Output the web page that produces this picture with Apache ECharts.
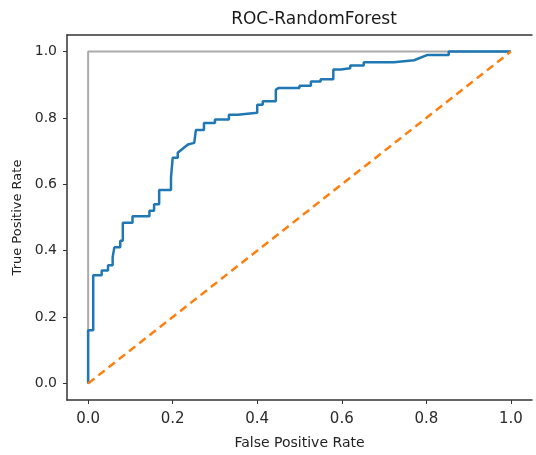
<!DOCTYPE html>
<html>
<head>
<meta charset="utf-8">
<script src="https://cdn.jsdelivr.net/npm/echarts@6/dist/echarts.min.js"></script>
<style>
  html, body { margin: 0; padding: 0; background: #fff; }
  #mainChart { width: 536px; height: 455px; }
</style>
</head>
<body>
<div id="mainChart"></div>
<script>
// ROC curve points [fpr, tpr]
var rocPoints = [
    [0, 0], [0, 0.16], [0.012, 0.16], [0.012, 0.326], [0.032, 0.326], [0.032, 0.34],
    [0.047, 0.34], [0.047, 0.356], [0.058, 0.356], [0.058, 0.38], [0.062, 0.38], [0.062, 0.41],
    [0.076, 0.41], [0.076, 0.43], [0.082, 0.43], [0.082, 0.484], [0.105, 0.484], [0.105, 0.504],
    [0.145, 0.504], [0.145, 0.52], [0.156, 0.52], [0.156, 0.54], [0.168, 0.54], [0.168, 0.583],
    [0.196, 0.583], [0.196, 0.62], [0.2, 0.62], [0.2, 0.68], [0.212, 0.68], [0.212, 0.695],
    [0.236, 0.72], [0.251, 0.725], [0.255, 0.725], [0.255, 0.764], [0.274, 0.764], [0.274, 0.785],
    [0.3, 0.785], [0.3, 0.795], [0.333, 0.795], [0.333, 0.81], [0.354, 0.81], [0.354, 0.816],
    [0.4, 0.816], [0.4, 0.84], [0.413, 0.84], [0.413, 0.85], [0.444, 0.85], [0.444, 0.885],
    [0.45, 0.89], [0.5, 0.89], [0.5, 0.897], [0.527, 0.897], [0.527, 0.91], [0.55, 0.91],
    [0.55, 0.917], [0.58, 0.917], [0.58, 0.946], [0.598, 0.946], [0.598, 0.95], [0.62, 0.95],
    [0.62, 0.958], [0.652, 0.958], [0.652, 0.968], [0.723, 0.968], [0.723, 0.974], [0.771, 0.974],
    [0.803, 0.99], [0.853, 0.99], [0.853, 1.0], [1, 1]
];
// perfect classifier and chance line
var perfectPoints = [[0, 0], [0, 1], [1, 1]];
var chancePoints = [[0, 0], [1, 1]];
// tick values
var xTicks = [0, 0.2, 0.4, 0.6, 0.8, 1.0];
var yTicks = [0, 0.2, 0.4, 0.6, 0.8, 1.0];

var chartDom = document.getElementById('mainChart');
var myChart = echarts.init(chartDom, null, { renderer: 'canvas' });

var fontFam = 'DejaVu Sans';
var axisColor = '#333';

var option = {
    animation: false,
    title: {
        text: 'ROC-RandomForest',
        left: 309,
        top: 6,
        textAlign: 'center',
        textStyle: { fontFamily: fontFam, fontSize: 17, fontWeight: 'normal', color: '#1a1a1a' }
    },
    grid: { left: 67, top: 35, width: 465, height: 365, containLabel: false },
    xAxis: [{
        type: 'value',
        min: -0.05,
        max: 1.05,
        name: 'False Positive Rate',
        nameLocation: 'middle',
        nameGap: 36,
        nameTextStyle: { fontFamily: fontFam, fontSize: 14, color: '#222' },
        axisLine: { show: true, onZero: false, lineStyle: { color: axisColor, width: 1.5 } },
        axisTick: { show: true, length: 4, customValues: xTicks, lineStyle: { color: axisColor } },
        axisLabel: {
            customValues: xTicks,
            margin: 12,
            fontFamily: fontFam, fontSize: 15, color: '#2a2a2a',
            formatter: function (v) { return v.toFixed(1); }
        },
        splitLine: { show: false }
    }, {
        type: 'value',
        position: 'top',
        min: -0.05,
        max: 1.05,
        axisLine: { show: true, onZero: false, lineStyle: { color: axisColor, width: 1.5 } },
        axisTick: { show: false },
        axisLabel: { show: false },
        splitLine: { show: false }
    }],
    yAxis: {
        type: 'value',
        min: -0.05,
        max: 1.05,
        name: 'True Positive Rate',
        nameLocation: 'middle',
        nameGap: 37,
        nameTextStyle: { fontFamily: fontFam, fontSize: 13, color: '#222' },
        axisLine: { show: true, onZero: false, lineStyle: { color: axisColor, width: 1.5 } },
        axisTick: { show: true, length: 4, customValues: yTicks, lineStyle: { color: axisColor } },
        axisLabel: {
            customValues: yTicks,
            margin: 10,
            fontFamily: fontFam, fontSize: 14, color: '#2a2a2a',
            formatter: function (v) { return v.toFixed(1); }
        },
        splitLine: { show: false }
    },
    series: [{
        name: 'perfect',
        type: 'line',
        data: perfectPoints,
        showSymbol: false,
        lineStyle: { color: '#aaaaaa', width: 2 }
    }, {
        name: 'RandomForest',
        type: 'line',
        data: rocPoints,
        showSymbol: false,
        lineStyle: { color: '#1f77b4', width: 2.5 }
    }, {
        name: 'chance',
        type: 'line',
        data: chancePoints,
        showSymbol: false,
        lineStyle: { color: '#ff7f0e', width: 2.5, type: [8, 5] }
    }]
};

myChart.setOption(option);
</script>
</body>
</html>
